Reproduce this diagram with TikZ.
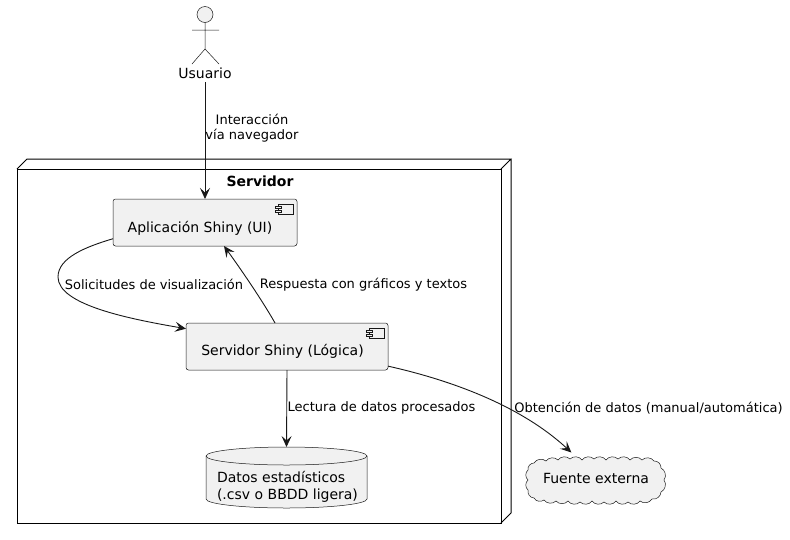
\documentclass[tikz,border=0pt]{standalone}
\usepackage{fontspec}
\setmainfont{DejaVu Sans}
\usetikzlibrary{arrows.meta, calc}
\definecolor{umlfill}{HTML}{F1F1F1}
\definecolor{umlline}{HTML}{181818}
\tikzset{
  every node/.style={font=\fontsize{14}{17.5}\selectfont, inner sep=0pt, outer sep=0pt},
  lbl/.style={font=\fontsize{13}{15.2}\selectfont, text=black, align=center},
  srvbox/.style={draw=black, line width=1pt, minimum width=484, minimum height=354},
  comp/.style={draw=umlline, fill=umlfill, line width=0.5pt, rounded corners=2.5pt},
  icon/.style={draw=umlline, fill=umlfill, line width=0.5pt},
  actorline/.style={draw=umlline, line width=0.5pt},
  dbline/.style={draw=umlline, fill=umlfill, line width=0.5pt},
  extcloud/.style={minimum width=135, minimum height=45, outer sep=3pt},
  arr/.style={-{Stealth[length=11pt,width=10pt,inset=4.5pt]}, line width=0.9pt, umlline},
}
\begin{document}
\begin{tikzpicture}[x=1pt,y=-1pt]
  \useasboundingbox (0,0) rectangle (790,539);

  % Server box
  \node[srvbox] (srv) at (259,346) {};
  \draw[line width=1pt] (srv.north west) -- ++(10,-10) -- ++(484,0) -- (srv.north east)
    (srv.north east |- 0,159) ++(10,0) -- ++(0,354) -- (srv.south east);
  \node[font=\fontsize{14}{16}\selectfont\bfseries] (srvtitle) at (260,181) {Servidor};

  % Actor
  \node[circle, minimum size=16, actorline, fill=umlfill] (head) at (205,14.5) {};
  \draw[actorline] (head.south) -- (205,49) -- (192,64) (205,49) -- (219,64) (192,30) -- (219,30);
  \node (usuario) at (205,73) {Usuario};

  % Components
  \node[comp, minimum width=184, minimum height=47] (uiapp) at (205,222.5) {};
  \node (uitext) at (200,228) {Aplicación Shiny (UI)};
  \node[comp, minimum width=202, minimum height=47] (logic) at (287,346.5) {};
  \node (logictext) at (282.5,351) {Servidor Shiny (Lógica)};

  % Component icons
  \foreach \n in {uiapp,logic} {
    \draw[icon] ($(\n.north east)+(-19,5)$) rectangle +(15,10);
    \draw[icon] ($(\n.north east)+(-22,7)$) rectangle +(6,2.2);
    \draw[icon] ($(\n.north east)+(-22,11)$) rectangle +(6,2.2);
  }

  % Data store
  \node[minimum width=161, minimum height=61] (datos) at (286.5,477.5) {};
  \path[dbline] ($(datos.north west)+(0,9)$) .. controls +(0,-5) and +(-44,0) .. (datos.north)
    .. controls +(44,0) and +(0,-5) .. ($(datos.north east)+(0,9)$)
    -- ($(datos.south east)+(0,-9)$) .. controls +(0,5) and +(44,0) .. (datos.south)
    .. controls +(-44,0) and +(0,5) .. ($(datos.south west)+(0,-9)$) -- cycle;
  \draw[dbline, fill=none] ($(datos.north west)+(0,9)$) .. controls +(0,5) and +(-44,0) .. ($(datos.north)+(0,18)$)
    .. controls +(44,0) and +(0,5) .. ($(datos.north east)+(0,9)$);
  \node[align=left, anchor=west] (datostext) at (217,487) {Datos estadísticos\\(.csv o BBDD ligera)};

  % External source
  \path[dbline] (534,463) \foreach \x/\y in {546/461,558/460,570/459,582/460,594/459,606/460,618/459,630/460,642/460,654/461,
      661/468,664/480,661/492,652/499,640/501,628/502,616/501,604/502,592/501,580/502,568/501,556/501,544/500,534/498,
      528/490,528/480,528/470,534/463} { to[bend left=50] (\x,\y) } -- cycle;
  \node[extcloud] (fuente) at (596,478) {Fuente externa};

  % Arrows
  \draw[arr] (usuario.south |- 0,82) -- (uiapp.north);
  \draw[arr] (uiapp.190) .. controls (85,247) and (58,258) .. (58,277)
    .. controls (58,305) and (130,319) .. (logic.170);
  \draw[arr] (logic.117) .. controls (262,300) and (240,268) .. (uiapp.-51);
  \draw[arr] (logic.south) -- (datos.north);
  \draw[arr] (logic.-11) .. controls (450,380) and (520,405) .. (fuente.134);

  % Labels
  \node[lbl] (lblusr) at (252,128.5) {Interacción\\vía navegador};
  \node[lbl] (lblsol) at (154,284) {Solicitudes de visualización};
  \node[lbl] (lblres) at (363.5,285) {Respuesta con gráficos y textos};
  \node[lbl] (lbllec) at (381.5,408) {Lectura de datos procesados};
  \node[lbl] (lblobt) at (648.5,408) {Obtención de datos (manual/automática)};
\end{tikzpicture}
\end{document}
